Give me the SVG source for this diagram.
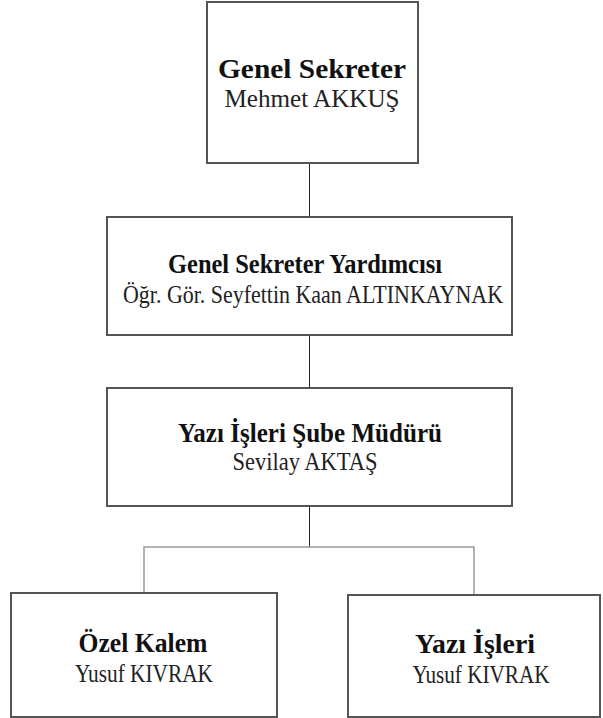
<svg xmlns="http://www.w3.org/2000/svg" width="603" height="718" viewBox="0 0 603 718">
<style>
.box{fill:#fff;stroke:#555;stroke-width:2}
.t{font-family:"Liberation Serif","Times New Roman",serif;font-weight:bold;font-size:28px;fill:#111;text-anchor:middle}
.s{font-family:"Liberation Serif","Times New Roman",serif;font-size:26px;fill:#222;text-anchor:middle}
.c1{stroke:#222;stroke-width:1;fill:none}
.c2{stroke:#999;stroke-width:1.5;fill:none}
</style>
<rect width="603" height="718" fill="#fff"/>
<g id="connectors">
<line class="c1" x1="309.5" y1="163" x2="309.5" y2="217"/>
<line class="c1" x1="309.5" y1="335" x2="309.5" y2="388"/>
<line class="c1" x1="309.5" y1="506" x2="309.5" y2="547"/>
<polyline class="c2" points="144,593 144,547 474,547 474,595"/>
</g>
<g id="genel-sekreter">
<rect class="box" x="207" y="2" width="211" height="161"/>
<text class="t" x="312" y="78" textLength="188" lengthAdjust="spacingAndGlyphs">Genel Sekreter</text>
<text class="s" x="312" y="107" textLength="175" lengthAdjust="spacingAndGlyphs">Mehmet AKKUŞ</text>
</g>
<g id="genel-sekreter-yardimcisi">
<rect class="box" x="107" y="217" width="405" height="118"/>
<text class="t" x="305" y="273" textLength="274" lengthAdjust="spacingAndGlyphs">Genel Sekreter Yardımcısı</text>
<text class="s" x="313" y="303" textLength="380" lengthAdjust="spacingAndGlyphs">Öğr. Gör. Seyfettin Kaan ALTINKAYNAK</text>
</g>
<g id="yazi-isleri-sube-muduru">
<rect class="box" x="107" y="388" width="405" height="118"/>
<text class="t" x="310" y="442" textLength="264" lengthAdjust="spacingAndGlyphs">Yazı İşleri Şube Müdürü</text>
<text class="s" x="305" y="470" textLength="145" lengthAdjust="spacingAndGlyphs">Sevilay AKTAŞ</text>
</g>
<g id="ozel-kalem">
<rect class="box" x="11" y="593" width="266" height="124"/>
<text class="t" x="143" y="652" textLength="129" lengthAdjust="spacingAndGlyphs">Özel Kalem</text>
<text class="s" x="144" y="682" textLength="138" lengthAdjust="spacingAndGlyphs">Yusuf KIVRAK</text>
</g>
<g id="yazi-isleri">
<rect class="box" x="348" y="595" width="252" height="122"/>
<text class="t" x="475" y="653" textLength="120" lengthAdjust="spacingAndGlyphs">Yazı İşleri</text>
<text class="s" x="481" y="683" textLength="137" lengthAdjust="spacingAndGlyphs">Yusuf KIVRAK</text>
</g>
</svg>
